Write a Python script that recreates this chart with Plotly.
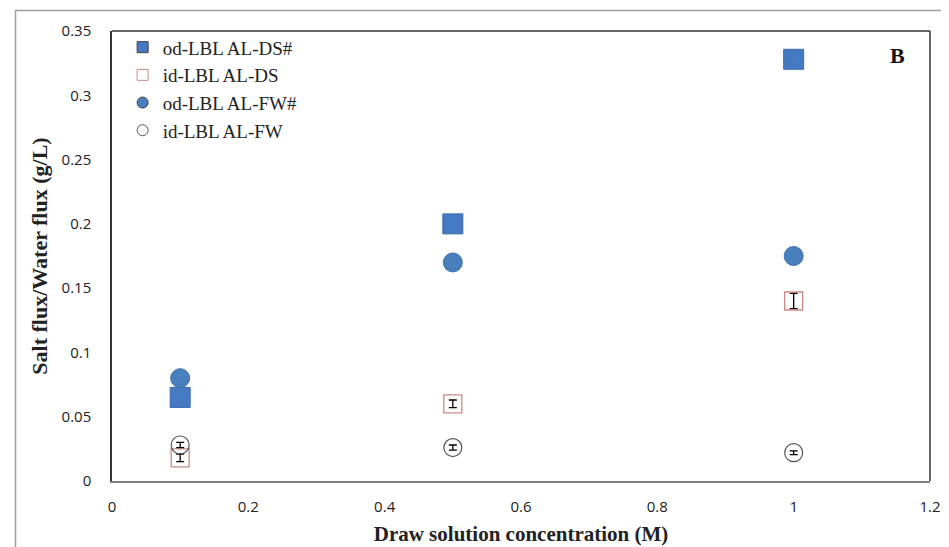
import plotly.graph_objects as go

conc = [0.1, 0.5, 1.0]
od_ds = [0.065, 0.200, 0.328]
id_ds = [0.018, 0.060, 0.140]
id_ds_err = [0.003, 0.003, 0.006]
od_fw = [0.080, 0.170, 0.175]
id_fw = [0.028, 0.026, 0.022]
id_fw_err = [0.002, 0.002, 0.0015]

x_ticks = [0, 0.2, 0.4, 0.6, 0.8, 1, 1.2]
x_ticklabels = ["0", "0.2", "0.4", "0.6", "0.8", "1", "1.2"]
y_ticks = [0, 0.05, 0.1, 0.15, 0.2, 0.25, 0.3, 0.35]
y_ticklabels = ["0", "0.05", "0.1", "0.15", "0.2", "0.25", "0.3", "0.35"]

# page body has an 8px margin, so the figure is drawn 8px in from the corner
OFF = 8
W, H = 949 - OFF, 547 - OFF
ml, mt = 112 - OFF, 31 - OFF
mr, mb = W - (930 - OFF), H - (481 - OFF)
pw, ph = W - ml - mr, H - mt - mb

SQ_C = "#4579C2"
CI_C = "#4A7FBD"
OSQ_C = "#C98A88"
OCI_C = "#555555"

fig = go.Figure()
fig.add_trace(go.Scatter(x=conc, y=od_ds, mode="markers", showlegend=False,
                         marker=dict(symbol="square", size=20, color=SQ_C,
                                     line=dict(color="#3C6CB0", width=1))))
fig.add_trace(go.Scatter(x=conc, y=id_ds, mode="markers", showlegend=False,
                         marker=dict(symbol="square-open", size=18, color=OSQ_C,
                                     line=dict(width=1.3)),
                         error_y=dict(type="data", array=id_ds_err, color="#000000",
                                      thickness=1.3, width=4)))
fig.add_trace(go.Scatter(x=conc, y=od_fw, mode="markers", showlegend=False,
                         marker=dict(symbol="circle", size=19, color=CI_C,
                                     line=dict(color="#3F73AE", width=1))))
fig.add_trace(go.Scatter(x=conc, y=id_fw, mode="markers", showlegend=False,
                         marker=dict(symbol="circle-open", size=18, color=OCI_C,
                                     line=dict(width=1.2)),
                         error_y=dict(type="data", array=id_fw_err, color="#000000",
                                      thickness=1.3, width=4)))

# legend entries with small markers as in the reference
legend_items = [
    ("od-LBL AL-DS#", "square", SQ_C),
    ("id-LBL AL-DS", "square-open", OSQ_C),
    ("od-LBL AL-FW#", "circle", CI_C),
    ("id-LBL AL-FW", "circle-open", OCI_C),
]
for name, sym, col in legend_items:
    fig.add_trace(go.Scatter(x=[None], y=[None], mode="markers", name=name,
                             marker=dict(symbol=sym, size=11, color=col,
                                         line=dict(width=1))))

fig.update_layout(
    width=W, height=H,
    margin=dict(l=ml, r=mr, t=mt, b=mb, autoexpand=False),
    paper_bgcolor="white", plot_bgcolor="white",
    showlegend=True,
    legend=dict(x=0.013, y=1.006, xanchor="left", yanchor="top",
                bgcolor="rgba(255,255,255,0)",
                font=dict(family="Liberation Serif", size=19, color="#222222"),
                itemwidth=30, tracegroupgap=0),
    xaxis=dict(range=[0, 1.2], tickvals=x_ticks, ticktext=x_ticklabels,
               automargin=False,
               showgrid=False, zeroline=False, showline=True, linecolor="#808080",
               linewidth=1.5, mirror=False, ticks="", ticklabelstandoff=11,
               tickfont=dict(family="Open Sans", size=15, color="#222222"),
               title=dict(text="<b>Draw solution concentration (M)</b>",
                          font=dict(family="Liberation Serif", size=21, color="#222222"),
                          standoff=12)),
    yaxis=dict(range=[0, 0.35], tickvals=y_ticks, ticktext=y_ticklabels,
               automargin=False,
               showgrid=False, zeroline=False, showline=True, linecolor="#333333",
               linewidth=1.5, ticks="", ticklabelstandoff=16,
               tickfont=dict(family="Open Sans", size=15, color="#222222"),
               title=dict(text="<b>Salt flux/Water flux (g/L)</b>",
                          font=dict(family="Liberation Serif", size=22, color="#222222"),
                          standoff=8)),
    shapes=[
        dict(type="line", xref="paper", yref="paper", x0=0, x1=1, y0=1, y1=1,
             line=dict(color="#333333", width=1.5)),
        dict(type="line", xref="paper", yref="paper", x0=1, x1=1, y0=0, y1=1,
             line=dict(color="#333333", width=1.5)),
        dict(type="rect", xref="paper", yref="paper",
             x0=(15.5 - OFF - ml) / pw, x1=(W + 20 - ml) / pw,
             y0=-(mb + 20) / ph, y1=(H - mb - (10.5 - OFF)) / ph,
             line=dict(color="#A0A0A0", width=1.5), layer="below"),
    ],
    annotations=[
        dict(text="<b>B</b>", xref="x", yref="y", x=1.152, y=0.331,
             showarrow=False,
             font=dict(family="Liberation Serif", size=22, color="#111111")),
    ],
)

fig.write_html("out.html")
